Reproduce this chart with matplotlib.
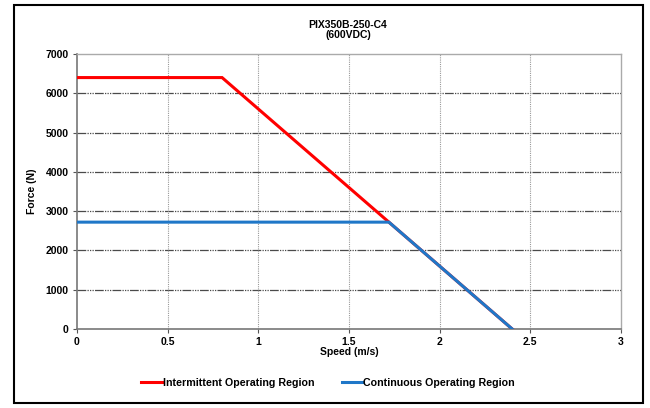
import matplotlib
matplotlib.use("Agg")
import matplotlib.pyplot as plt
from matplotlib.patches import Rectangle

plt.rcParams['font.family'] = ['Liberation Sans', 'DejaVu Sans']

title = "PIX350B-250-C4\n(600VDC)"
int_speed = [0, 0.8, 2.4]
int_force = [6400, 6400, 0]
cont_speed = [0, 1.72, 2.4]
cont_force = [2720, 2720, 0]
xticks = [0, 0.5, 1, 1.5, 2, 2.5, 3]
xticklabels = ["0", "0.5", "1", "1.5", "2", "2.5", "3"]
yticks = [0, 1000, 2000, 3000, 4000, 5000, 6000, 7000]

fig = plt.figure(figsize=(6.5, 4.08), dpi=100)
W, H = 650, 408
ax = fig.add_axes([77 / W, 1 - 329 / H, (621 - 77) / W, (329 - 54) / H])

# outer frame
fig.patches.append(Rectangle((14 / W, 1 - 403 / H), (643 - 14) / W, (403 - 5) / H,
                             transform=fig.transFigure, fill=False, edgecolor='black',
                             linewidth=1.5, zorder=0))

ax.plot(int_speed, int_force, color='#ff0000', linewidth=2.2, label='Intermittent Operating Region',
        solid_joinstyle='miter', zorder=3)
ax.plot(cont_speed, cont_force, color='#1f77c8', linewidth=2.2, label='Continuous Operating Region',
        solid_joinstyle='miter', zorder=4)

ax.set_xlim(0, 3)
ax.set_ylim(0, 7000)
ax.set_xticks(xticks)
ax.set_xticklabels(xticklabels)
ax.set_yticks(yticks)

for y in yticks[1:-1]:
    ax.axhline(y, color='#4a4a4a', linewidth=0.9,
               linestyle=(0, (7, 1, 1, 1, 1, 1, 1, 1)), zorder=1)
for x in xticks[1:-1]:
    ax.axvline(x, color='#999999', linewidth=0.8, linestyle=(0, (1, 1)), zorder=1)

for s in ['top', 'right']:
    ax.spines[s].set_color('#aaaaaa')
    ax.spines[s].set_linewidth(1.0)
for s in ['left', 'bottom']:
    ax.spines[s].set_color('#777777')
    ax.spines[s].set_linewidth(1.2)

ax.tick_params(axis='both', direction='out', length=3, width=0.8, color='#555555',
               labelsize=7.5, pad=3)
for lab in ax.get_xticklabels() + ax.get_yticklabels():
    lab.set_fontweight('bold')

ax.set_xlabel("Speed (m/s)", fontsize=7.5, fontweight='bold', labelpad=0)
ax.set_ylabel("Force (N)", fontsize=7.5, fontweight='bold', labelpad=6)
fig.text(348 / W, 1 - 30 / H, title, ha='center', va='center', fontsize=7.5,
         fontweight='bold', linespacing=1.1)

leg = fig.legend(loc='center', bbox_to_anchor=(328 / W, 1 - 383 / H), ncol=2, frameon=False,
                 prop={'size': 7.7, 'weight': 'bold'}, handlelength=2.0, handletextpad=0.0,
                 columnspacing=2.6)

fig.savefig("out.png", dpi=100)
